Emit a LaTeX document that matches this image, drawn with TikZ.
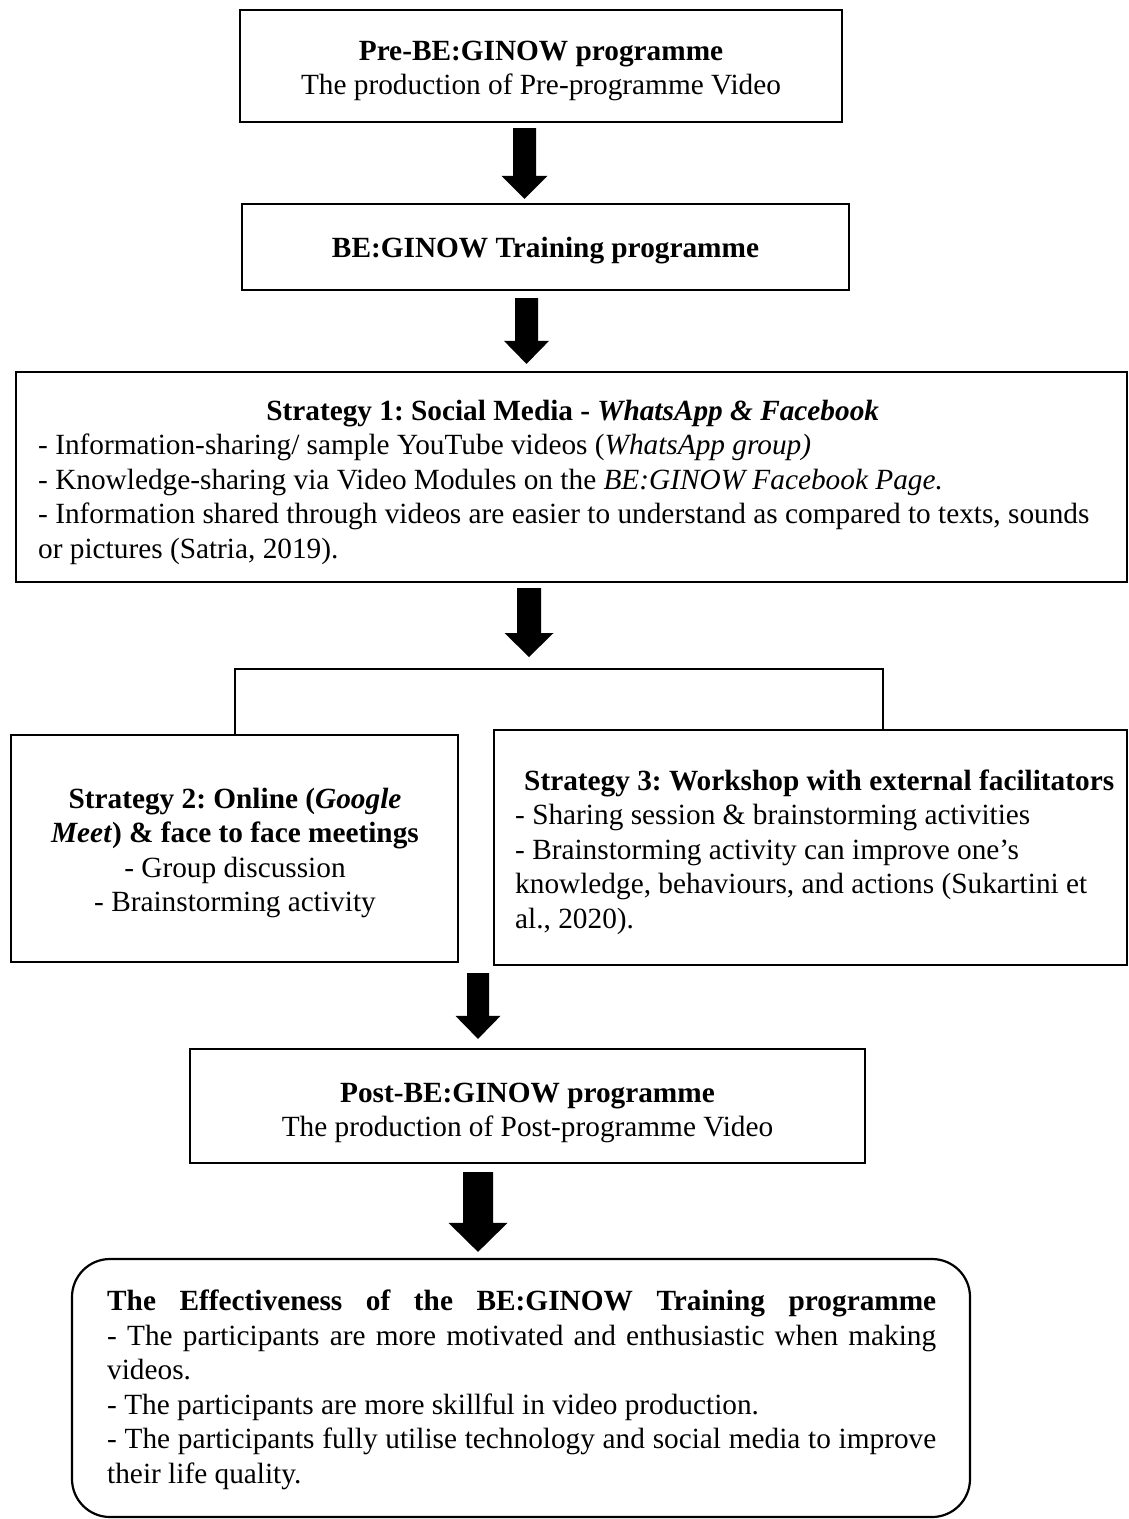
\documentclass[tikz,border=0pt]{standalone}
\usepackage{fontspec}
\setmainfont{Liberation Serif}
\usetikzlibrary{calc}
\setlength{\parindent}{0pt}
\newcommand{\blkarrow}[5]{%
  \fill[black] let \p1=(#1), \p2=(#2) in
    (\x1-#3/2,\y1) -- (\x1+#3/2,\y1) -- (\x1+#3/2,\y2+#5) -- (\x1+#4/2,\y2+#5)
    -- (\x1,\y2) -- (\x1-#4/2,\y2+#5) -- (\x1-#3/2,\y2+#5) -- cycle;}
\newcommand{\spreadline}[2]{\leavevmode\hbox to #1{#2}}
\begin{document}
\frenchspacing
\begin{tikzpicture}[x=1pt,y=-1pt,
  box/.style={draw=black, line width=2.2pt, inner sep=0pt},
  txt/.style={inner sep=0pt, font=\fontsize{29.3}{34.5}\selectfont\frenchspacing},
  conn/.style={draw=black, line width=2pt}]
\useasboundingbox (0,0) rectangle (1129,1519);

% boxes
\node[box, minimum width=602pt, minimum height=112pt] (b1) at (541,66) {};
\node[box, minimum width=607pt, minimum height=86pt] (b2) at (545.5,247) {};
\node[box, minimum width=1111pt, minimum height=210pt] (b3) at (571.5,477) {};
\node[box, minimum width=447pt, minimum height=227pt] (b4) at (234.5,848.5) {};
\node[box, minimum width=633pt, minimum height=235pt] (b5) at (810.5,847.5) {};
\node[box, minimum width=675pt, minimum height=114pt] (b6) at (527.5,1106) {};
\node[box, rounded corners=38pt, minimum width=898pt, minimum height=258pt] (b7) at (521,1388) {};

% texts
\node[txt, align=center] (t1) at (541,71) {\textbf{Pre-BE:GINOW programme}\\The production of Pre-programme Video};
\node[txt] (t2) at (545.5,251) {\textbf{BE:GINOW Training programme}};
\node[txt, anchor=west, text width=1085pt, align=flush left] (t3) at (38,482)
  {\spreadline{1069pt}{\hfil\textbf{Strategy 1: Social Media - \textit{WhatsApp \& Facebook}}\hfil}\\
   - Information-sharing/ sample YouTube videos (\textit{WhatsApp group)}\\
   - Knowledge-sharing via Video Modules on the \textit{BE:GINOW Facebook Page.}\\
   - Information shared through videos are easier to understand as compared to texts, sounds\\
   or pictures (Satria, 2019).};
\node[txt, align=center] (t4) at (235,853)
  {\textbf{Strategy 2: Online (\textit{Google}}\\
   \textbf{\textit{Meet}) \& face to face meetings}\\
   - Group discussion\\
   - Brainstorming activity};
\node[txt, anchor=west, text width=608pt, align=flush left] (t5) at (515,852)
  {\spreadline{608pt}{\hfil\textbf{Strategy 3: Workshop with external facilitators}\hfil}\\
   - Sharing session \& brainstorming activities\\
   - Brainstorming activity can improve one’s\\
   knowledge, behaviours, and actions (Sukartini et\\
   al., 2020).};
\node[txt, align=center] (t6) at (527.5,1113) {\textbf{Post-BE:GINOW programme}\\The production of Post-programme Video};
\node[txt, anchor=west, text width=829pt, align=flush left] (t7) at (107,1390)
  {\spreadline{829pt}{\textbf{The Effectiveness of the BE:GINOW Training programme}}\\
   \spreadline{829pt}{- The participants are more motivated and enthusiastic when making}\\
   videos.\\
   - The participants are more skillful in video production.\\
   \spreadline{829pt}{- The participants fully utilise technology and social media to improve}\\
   their life quality.};

% bracket
\coordinate (jn) at (529,670);
\draw[conn] (b4.north) |- ($(b5.north)+(72.5,-60)$) -- ($(b5.north)+(72.5,0)$);

% arrow end points
\coordinate (a1s) at ($(b1.south)+(-16.5,5)$);
\coordinate (a1e) at ($(b2.north)+(-21,-4)$);
\coordinate (a2s) at ($(b2.south)+(-19,7)$);
\coordinate (a2e) at ($(b3.north)+(-45,-7)$);
\coordinate (a3s) at ($(b3.south)+(-42.5,5)$);
\coordinate (a3e) at ($(jn)+(0,-13)$);
\coordinate (a4s) at ($(b4.south)+(243.5,10)$);
\coordinate (a4e) at ($(b6.north)+(-49.5,-9)$);
\coordinate (a5s) at ($(b6.south)+(-49.5,8)$);
\coordinate (a5e) at ($(b7.north)+(-43,-6)$);

\blkarrow{a1s}{a1e}{23}{46}{23}
\blkarrow{a2s}{a2e}{23}{45}{23}
\blkarrow{a3s}{a3e}{24}{49}{24}
\blkarrow{a4s}{a4e}{22}{45}{23}
\blkarrow{a5s}{a5e}{30}{59}{29}
\end{tikzpicture}
\end{document}
